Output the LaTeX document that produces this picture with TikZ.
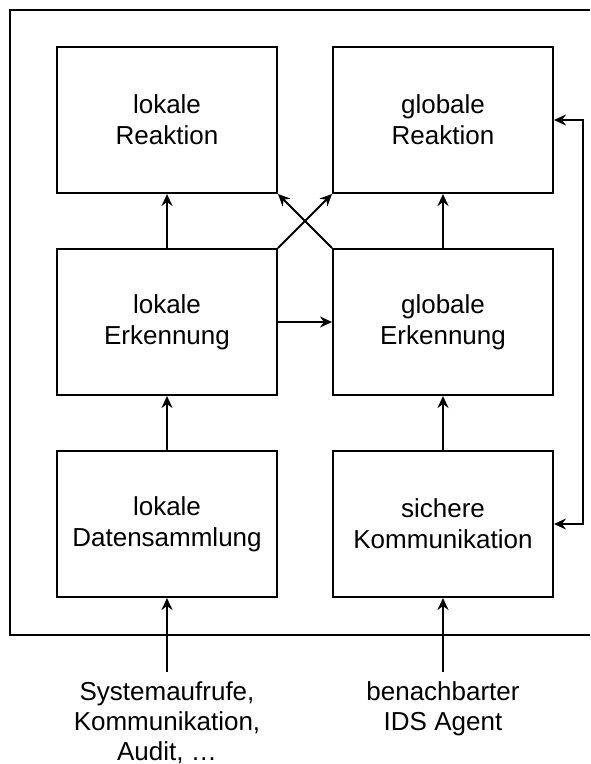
\documentclass[tikz,border=0pt]{standalone}
\usepackage{fontspec}
\setmainfont{Liberation Sans}
\usetikzlibrary{arrows.meta,positioning}
\tikzset{
	>=Stealth,
	block/.style={
		draw,
		line width=2pt,
		minimum width=220pt,
		minimum height=146pt,
		align=center,
		inner sep=0pt,
		font=\fontsize{26}{31}\selectfont
	},
	srctext/.style={
		align=center,
		inner sep=0pt,
		font=\fontsize{26}{30}\selectfont
	},
	link/.style={
		-{Stealth[length=12pt,width=11pt,inset=4pt]},
		line width=2pt
	}
}
\begin{document}
\begin{tikzpicture}[x=1pt,y=-1pt]
	\useasboundingbox (0,0) rectangle (590,764);
	
	% --- FRAME OF THE AGENT ---
	\draw[line width=2pt] (590,10) -- (10,10) -- (10,635) -- (590,635);
	
	% --- REACTION ---
	\node[block] (lr) at (167,120) {lokale\\Reaktion};
	\node[block] (gr) at (443,120) {globale\\Reaktion};
	
	% --- DETECTION ---
	\node[block] (le) at (167,322) {lokale\\Erkennung};
	\node[block] (ge) at (443,322) {globale\\Erkennung};
	
	% --- DATA SOURCES ---
	\node[block] (ld) at (167,524) {lokale\\Datensammlung};
	\node[block] (sk) at (443,524) {sichere\\Kommunikation};
	
	% --- INPUTS FROM OUTSIDE ---
	\node[srctext, anchor=north] (sys) at (167,681) {Systemaufrufe,\\Kommunikation,\\Audit, \ldots};
	\node[srctext, anchor=north] (nb) at (443,681) {benachbarter\\IDS Agent};
	
	% --- CONNECTIONS ---
	\draw[link] (sys.north |- 0,672) -- (ld.south);
	\draw[link] (nb.north |- 0,672) -- (sk.south);
	\draw[link] (ld) -- (le);
	\draw[link] (sk) -- (ge);
	\draw[link] (le) -- (lr);
	\draw[link] (ge) -- (gr);
	\draw[link] (le) -- (ge);
	\draw[link] (le.north east) -- (gr.south west);
	\draw[link] (ge.north west) -- (lr.south east);
	\draw[link, {Stealth[length=12pt,width=11pt,inset=4pt]}-{Stealth[length=12pt,width=11pt,inset=4pt]}]
		(gr.east) -- ++(29,0) |- (sk.east);
	
\end{tikzpicture}
\end{document}
